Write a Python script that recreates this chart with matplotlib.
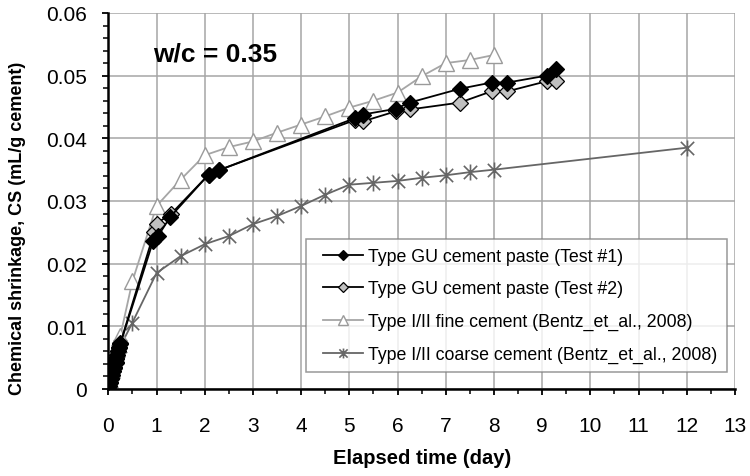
import matplotlib
matplotlib.use("Agg")
import matplotlib.pyplot as plt
from matplotlib.path import Path
from matplotlib.lines import Line2D
from matplotlib.legend_handler import HandlerLine2D

plt.rcParams['font.family'] = ['Liberation Sans', 'DejaVu Sans']

# ---- data ----
t1_x = [0, 0.02, 0.04, 0.06, 0.08, 0.10, 0.12, 0.15, 0.17, 0.19, 0.21, 0.23, 0.25,
        0.93, 1.03, 1.29, 2.08, 2.29, 5.11, 5.28, 5.96, 6.25, 7.29, 7.95, 8.28, 9.09, 9.29]
t1_y = [0, 0.0004, 0.001, 0.0016, 0.0022, 0.0028, 0.0034, 0.0042, 0.0048, 0.0054, 0.006, 0.0066, 0.0072,
        0.0236, 0.0244, 0.0275, 0.0342, 0.0349, 0.0432, 0.0438, 0.0447, 0.0457, 0.0479, 0.0489, 0.0489, 0.0500, 0.0510]

t2_x = [0, 0.02, 0.04, 0.06, 0.08, 0.10, 0.12, 0.15, 0.17, 0.19, 0.21, 0.23, 0.25,
        0.95, 1.00, 1.31, 2.08, 2.29, 5.11, 5.28, 5.96, 6.25, 7.29, 7.95, 8.28, 9.09, 9.29]
t2_y = [0, 0.0005, 0.0011, 0.0017, 0.0023, 0.0029, 0.0035, 0.0043, 0.0049, 0.0055, 0.0061, 0.0067, 0.0073,
        0.0250, 0.0264, 0.0280, 0.0342, 0.0349, 0.0429, 0.0427, 0.0443, 0.0446, 0.0457, 0.0475, 0.0475, 0.0491, 0.0491]

fine_x = [0, 0.042, 0.083, 0.125, 0.167, 0.208, 0.25, 0.5, 1.0, 1.5, 2.0, 2.5, 3.0, 3.5,
          4.0, 4.5, 5.0, 5.5, 6.0, 6.5, 7.0, 7.5, 8.0]
fine_y = [0, 0.0015, 0.003, 0.0045, 0.006, 0.0072, 0.0085, 0.0172, 0.0292, 0.0334, 0.0373, 0.0386,
          0.0395, 0.0409, 0.0422, 0.0435, 0.0449, 0.0460, 0.0473, 0.0499, 0.0520, 0.0525, 0.0533]

coarse_x = [0, 0.042, 0.083, 0.125, 0.167, 0.208, 0.25, 0.5, 1.0, 1.5, 2.0, 2.5, 3.0, 3.5,
            4.0, 4.5, 5.0, 5.5, 6.0, 6.5, 7.0, 7.5, 8.0, 12.0]
coarse_y = [0, 0.0012, 0.0025, 0.0037, 0.005, 0.006, 0.0068, 0.0106, 0.0185, 0.0212, 0.0231, 0.0244,
            0.0263, 0.0276, 0.0292, 0.0310, 0.0326, 0.0329, 0.0332, 0.0337, 0.0341, 0.0346, 0.0350, 0.0385]

labels = ["Type GU cement paste (Test #1)",
          "Type GU cement paste (Test #2)",
          "Type I/II fine cement (Bentz_et_al., 2008)",
          "Type I/II coarse cement (Bentz_et_al., 2008)"]

x_ticks = list(range(0, 14))
y_ticks = [0, 0.01, 0.02, 0.03, 0.04, 0.05, 0.06]
y_tick_labels = ["0", "0.01", "0.02", "0.03", "0.04", "0.05", "0.06"]

# ---- figure ----
fig = plt.figure(figsize=(7.5, 4.77), dpi=100)
ax = fig.add_axes([0.1444, 0.1824, 0.8356, 0.7883])

star = Path([(-1, -1), (1, 1), (-1, 1), (1, -1), (0, -1.2), (0, 1.2)],
            [Path.MOVETO, Path.LINETO, Path.MOVETO, Path.LINETO, Path.MOVETO, Path.LINETO])

ax.plot(coarse_x, coarse_y, color='#666666', lw=1.3, marker=star, ms=11.5,
        mec='#666666', mew=1.2, label=labels[3], zorder=3)
ax.plot(fine_x, fine_y, color='#a6a6a6', lw=1.3, marker='^', ms=11,
        mfc='white', mec='#9a9a9a', mew=1.0, label=labels[2], zorder=4)
ax.plot(t2_x, t2_y, color='black', lw=1.3, marker='D', ms=7.8,
        mfc='#c0c0c0', mec='black', mew=0.9, label=labels[1], zorder=5)
ax.plot(t1_x, t1_y, color='black', lw=1.3, marker='D', ms=7.8,
        mfc='black', mec='black', mew=0.9, label=labels[0], zorder=6)

ax.set_xlim(0, 13)
ax.set_ylim(0, 0.06)
ax.set_xticks(x_ticks)
ax.set_xticklabels([str(v) for v in x_ticks])
ax.set_yticks(y_ticks)
ax.set_yticklabels(y_tick_labels)
ax.set_xticks([v + 0.5 for v in range(0, 13)], minor=True)
ax.set_yticks([i * 0.002 for i in range(31)], minor=True)

ax.grid(True, which='major', color='#a6a6a6', lw=1.1, zorder=0)
ax.set_axisbelow(True)
for s in ['top', 'right']:
    ax.spines[s].set_visible(False)
for s in ['left', 'bottom']:
    ax.spines[s].set_linewidth(1.8)
    ax.spines[s].set_color('black')
    ax.spines[s].set_zorder(7)

ax.tick_params(axis='both', which='major', direction='out', length=4.5, width=1.3,
               labelsize=15)
ax.tick_params(axis='x', which='major', pad=15)
ax.tick_params(axis='y', which='major', pad=11)
ax.tick_params(axis='both', which='minor', direction='out', length=3.5, width=1.1)

ax.set_xlabel("Elapsed time (day)", fontsize=14.5, fontweight='bold', labelpad=9)
ax.set_ylabel("Chemical shrinkage, CS (mL/g cement)", fontsize=13, fontweight='bold')
ax.yaxis.set_label_coords(-0.131, 0.43)

ax.text(2.21, 0.0536, "w/c = 0.35", fontsize=19, fontweight='bold', ha='center', va='center')

handles, labs = ax.get_legend_handles_labels()
order = [3, 2, 1, 0]
leg = ax.legend([handles[i] for i in order], [labs[i] for i in order],
                loc='upper left', bbox_to_anchor=(0.315, 0.048, 0.672, 0.351),
                mode='expand', fontsize=12.8, frameon=True, fancybox=False,
                markerscale=0.62, handlelength=2.7, handletextpad=0.3,
                borderaxespad=0, labelspacing=0.88, borderpad=0.5,
                handler_map={Line2D: HandlerLine2D(xpad=0.45)})
leg.get_frame().set_edgecolor('#808080')
leg.get_frame().set_linewidth(1.1)
leg.set_zorder(10)

fig.savefig("out.png", dpi=100)
